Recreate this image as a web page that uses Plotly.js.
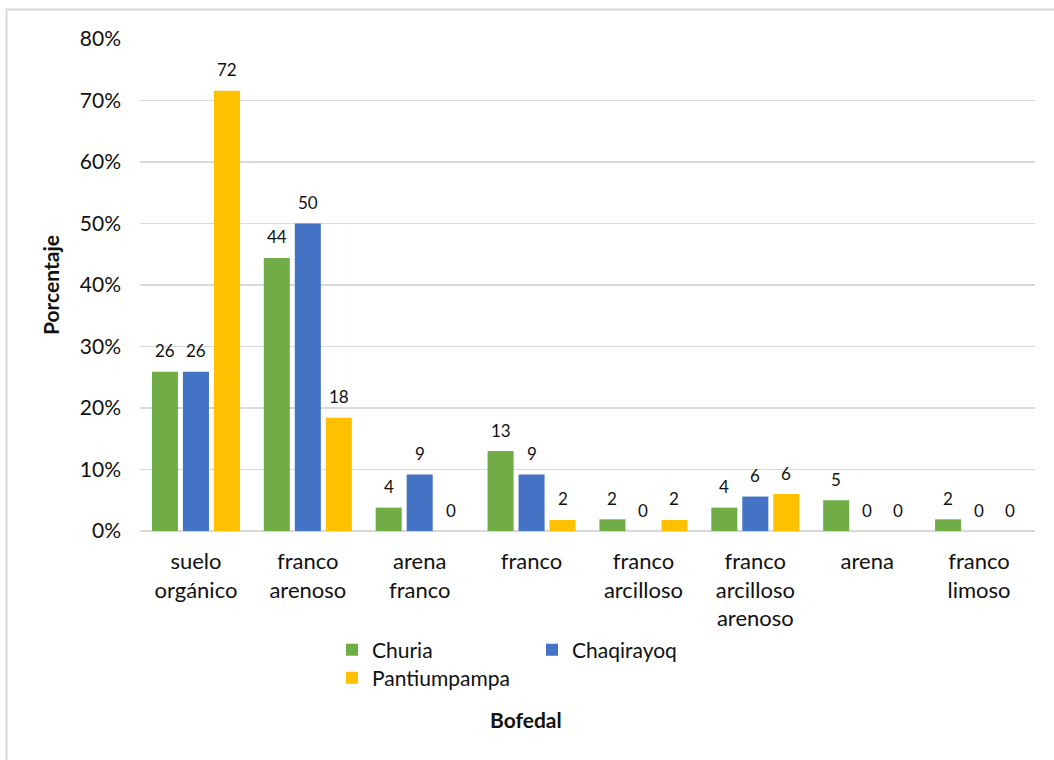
<!DOCTYPE html>
<html>
<head>
<meta charset="utf-8">
<script src="https://cdn.plot.ly/plotly-3.0.1.min.js"></script>
<style>
  html, body { margin: 0; padding: 0; background: #ffffff; }
  #chart { width: 1054px; height: 760px; }
</style>
</head>
<body>
<div id="chart"></div>
<script>
// Soil texture classes per bofedal (percentage of samples)
const categories = [
  'suelo<br>orgánico',
  'franco<br>arenoso',
  'arena<br>franco',
  'franco',
  'franco<br>arcilloso',
  'franco<br>arcilloso<br>arenoso',
  'arena',
  'franco<br>limoso'
];
const churia       = [25.9, 44.4, 3.8, 13.0, 1.9, 3.8, 5.0, 1.9];
const chaqirayoq   = [25.9, 50.0, 9.2, 9.2, 0, 5.6, 0, 0];
const pantiumpampa = [71.6, 18.4, 0, 1.8, 1.8, 6.0, 0, 0];
const seriesNames  = ['Churia', 'Chaqirayoq', 'Pantiumpampa'];

// Styling
const FONT = 'Lato, "Open Sans", sans-serif';
const TEXT = '#111111';
const GRID = '#d9d9d9';
const seriesColors = ['#70ad47', '#4472c4', '#ffc000'];
const seriesLegends = ['legend', 'legend', 'legend2'];
const BARGAP = 0.169, GROUPGAP = 0.16;
const M = { l: 140, r: 19, t: 39, b: 229 };
const W = 1054, H = 760;

const seriesValues = [churia, chaqirayoq, pantiumpampa];

const traces = seriesValues.map((vals, i) => ({
  type: 'bar',
  name: seriesNames[i],
  x: categories,
  y: vals,
  legend: seriesLegends[i],
  marker: { color: seriesColors[i], line: { width: 0 } },
  hovertemplate: '%{y:.1f}%<extra>' + seriesNames[i] + '</extra>'
}));

// Value labels above each bar (rounded), shifted to each bar's slot in the group
const plotW = W - M.l - M.r;
const slot = (plotW / categories.length) * (1 - BARGAP) / seriesValues.length;
const labels = [];
seriesValues.forEach((vals, i) => {
  vals.forEach((v, j) => {
    labels.push({
      x: categories[j], y: v, xref: 'x', yref: 'y',
      text: String(Math.round(v)),
      showarrow: false,
      xshift: (i - 1) * slot,
      yshift: 21,
      yanchor: 'middle',
      font: { family: FONT, size: 17, color: TEXT }
    });
  });
});

// x-axis caption
labels.push({
  text: '<b>Bofedal</b>', xref: 'paper', yref: 'paper',
  x: (526 - M.l) / plotW, y: (H - M.b - 719) / (H - M.t - M.b),
  xanchor: 'center', yanchor: 'middle', showarrow: false,
  font: { family: FONT, size: 21, color: TEXT }
});

// chart-area frame (top and left edges)
const plotH = H - M.t - M.b;
const px = v => (v - M.l) / plotW;
const py = v => (H - M.b - v) / plotH;
const frame = [{
  type: 'path', xref: 'paper', yref: 'paper',
  path: `M ${px(6.5)} ${py(H + 2)} L ${px(6.5)} ${py(9.5)} L ${px(W + 2)} ${py(9.5)}`,
  line: { color: GRID, width: 2 }
}];

const layout = {
  width: W, height: H,
  margin: M,
  paper_bgcolor: '#ffffff',
  plot_bgcolor: '#ffffff',
  font: { family: FONT, size: 21, color: TEXT },
  barmode: 'group',
  bargap: BARGAP,
  bargroupgap: GROUPGAP,
  xaxis: {
    type: 'category',
    showgrid: false, zeroline: false, showline: false, ticks: '',
    tickfont: { family: FONT, size: 22, color: TEXT },
    ticklabelstandoff: 15
  },
  yaxis: {
    range: [0, 80], dtick: 10, ticksuffix: '%',
    showgrid: true, gridcolor: GRID, gridwidth: 1.5,
    zeroline: true, zerolinecolor: GRID, zerolinewidth: 2,
    showline: false, ticks: '',
    tickfont: { family: FONT, size: 21, color: TEXT },
    ticklabelstandoff: 18,
    title: { text: '<b>Porcentaje</b>', font: { family: FONT, size: 21, color: TEXT }, standoff: 14 }
  },
  legend: {
    orientation: 'h',
    xref: 'container', yref: 'container',
    x: 332 / W, y: 1 - 650 / H,
    xanchor: 'left', yanchor: 'middle',
    entrywidth: 155,
    font: { family: FONT, size: 21, color: TEXT },
    bgcolor: 'rgba(0,0,0,0)'
  },
  legend2: {
    orientation: 'h',
    xref: 'container', yref: 'container',
    x: 332 / W, y: 1 - 678 / H,
    xanchor: 'left', yanchor: 'middle',
    font: { family: FONT, size: 21, color: TEXT },
    bgcolor: 'rgba(0,0,0,0)'
  },
  annotations: labels,
  shapes: frame,
  showlegend: true
};

Plotly.newPlot('chart', traces, layout, { displayModeBar: false, staticPlot: true });
</script>
</body>
</html>
